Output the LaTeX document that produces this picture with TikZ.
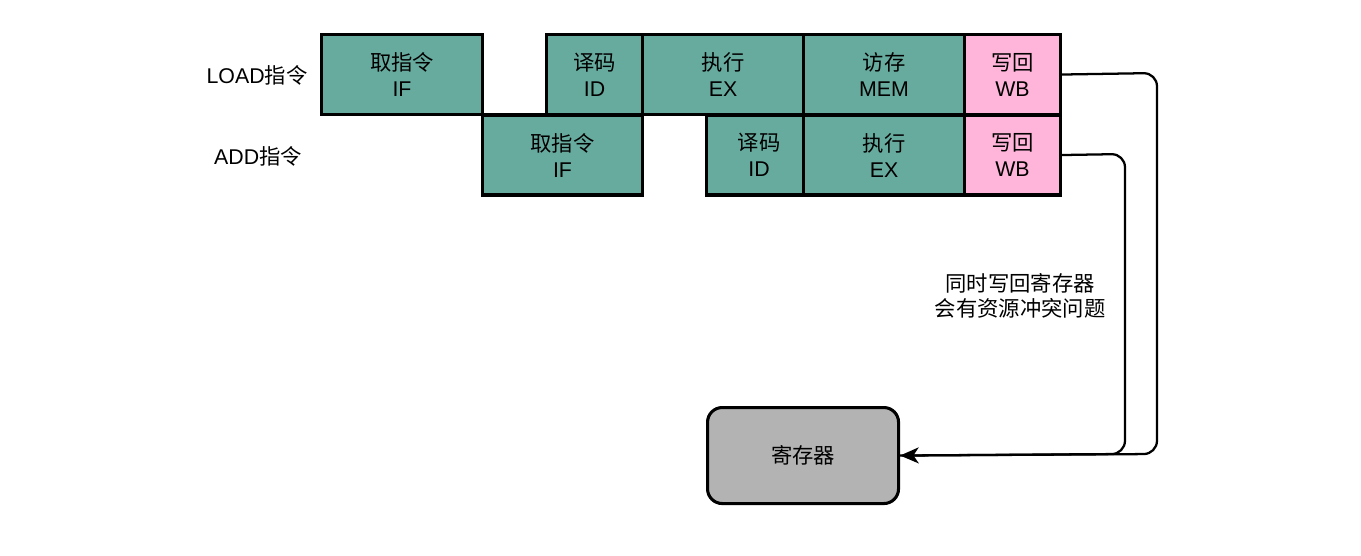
\documentclass[tikz,border=0pt]{standalone}
\usepackage{fontspec}
\setmainfont{Liberation Sans}
\newfontfamily\cjk{Noto Sans CJK SC}
\usetikzlibrary{arrows.meta}
\definecolor{stagefill}{HTML}{67AB9F}
\definecolor{wbfill}{HTML}{FFB5DA}
\definecolor{regfill}{HTML}{B3B3B3}
\tikzset{
  stage/.style={draw=black, line width=2.3pt, fill=stagefill, anchor=north west,
    minimum height=60pt, inner sep=0pt, align=center, font=\fontsize{16}{19.5}\selectfont},
  wbbox/.style={stage, fill=wbfill},
  lbl/.style={font=\fontsize{16}{19}\selectfont, align=center},
  conn/.style={draw=black, line width=1.7pt, rounded corners=10pt},
}
\begin{document}
\begin{tikzpicture}[x=0.75pt,y=-0.75pt]
\useasboundingbox (0,0) rectangle (1361,556);
% row 1
\node[stage, minimum width=120.75pt] (lif) at (320,33) {{\cjk 取指令}\\IF};
\node[stage, minimum width=72pt] (lid) at (545,33) {{\cjk 译码}\\ID};
\node[stage, minimum width=120.75pt] (lex) at (641,33) {{\cjk 执行}\\EX};
\node[stage, minimum width=120.75pt] (lmem) at (802,33) {{\cjk 访存}\\MEM};
\node[wbbox, minimum width=72pt] (lwb) at (963,33) {{\cjk 写回}\\WB};
% row 2
\node[stage, minimum width=120pt] (aif) at (481,113.5) {{\cjk 取指令}\\IF};
\node[stage, minimum width=72.75pt] (aid) at (705,113.5) {\hspace{6pt}{\cjk 译码}\\\hspace{6pt}ID};
\node[stage, minimum width=120.75pt] (aex) at (802,113.5) {{\cjk 执行}\\EX};
\node[wbbox, minimum width=72pt] (awb) at (963,113.5) {{\cjk 写回}\\WB};
% labels
\node[lbl] (lload) at (257,75) {LOAD{\cjk 指令}};
\node[lbl] (ladd) at (258,156) {ADD{\cjk 指令}};
% register
\node[draw=black, line width=2.3pt, fill=regfill, rounded corners=11pt,
  minimum width=143.25pt, minimum height=72pt, anchor=north west, lbl] (reg) at (706,406) {\cjk 寄存器};
\coordinate (j1) at (1157,454);
\coordinate (j2) at (1125,454);
\draw[conn] (lwb.east) -- (1157,73) -- (j1) -- (reg.east);
\draw[conn, -{Stealth[length=14pt,width=12pt,inset=4pt]}] (awb.east) -- (1125,154) -- (j2) -- (reg.east);
\node[lbl, font=\cjk\fontsize{16}{19}\selectfont] (note) at (1020,296) {同时写回寄存器\\会有资源冲突问题};
\end{tikzpicture}
\end{document}
